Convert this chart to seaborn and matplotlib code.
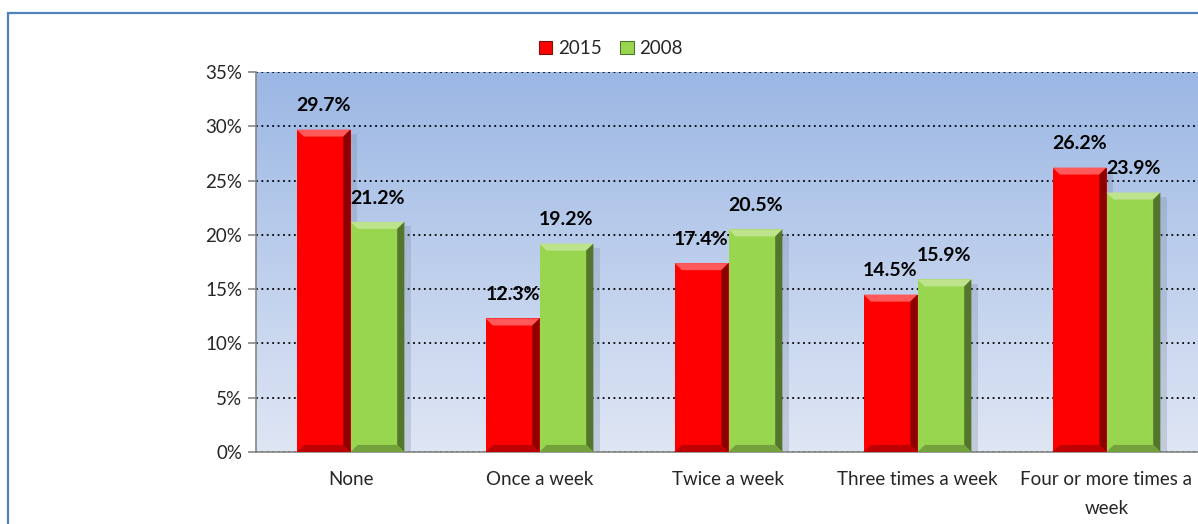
import numpy as np
import pandas as pd
import seaborn as sns
import matplotlib.pyplot as plt
from matplotlib.patches import Rectangle, Polygon, Patch
from matplotlib.colors import LinearSegmentedColormap, to_rgb

# data
categories = ['None', 'Once a week', 'Twice a week', 'Three times a week',
              'Four or more times a\nweek']
years = ['2015', '2008']
share_2015 = [29.7, 12.3, 17.4, 14.5, 26.2]
share_2008 = [21.2, 19.2, 20.5, 15.9, 23.9]
colors = {'2015': '#FF0000', '2008': '#99D650'}

df = pd.DataFrame({
    'Frequency': categories * 2,
    'Year': ['2015'] * len(categories) + ['2008'] * len(categories),
    'Share': share_2015 + share_2008,
})

sns.set_style('white')
plt.rcParams['font.family'] = ['Lato', 'DejaVu Sans']

W, H = 1198, 524
fig = plt.figure(figsize=(W / 100, H / 100), dpi=100)
ax = fig.add_axes([256 / W, 72 / H, 945 / W, 380 / H])

sns.barplot(data=df, x='Frequency', y='Share', hue='Year', palette=colors,
            hue_order=years, width=0.57, saturation=1, legend=False,
            edgecolor='none', zorder=3, ax=ax)

ax.set_xlim(-0.5, len(categories) - 0.5)
ax.set_ylim(0, 35)

# gradient background of the plot area
bg = LinearSegmentedColormap.from_list('bg', ['#DFE6F4', '#9BB7E4'])
ax.imshow(np.linspace(0, 1, 256).reshape(-1, 1), cmap=bg, origin='lower',
          extent=[-0.5, len(categories) - 0.5, 0, 35], aspect='auto', zorder=0)

# bevel look on the bars
bars = list(ax.patches)
dx, dy = 0.038, 0.65
for p in bars:
    x, y, w, h = p.get_x(), p.get_y(), p.get_width(), p.get_height()
    base = np.array(to_rgb(p.get_facecolor()))
    light = base + (1 - base) * 0.35
    dark = base * 0.55
    mid_dark = base * 0.75
    ax.add_patch(Rectangle((x + w, y), 0.035, h - 0.4, color='#6f7f99',
                           alpha=0.25, lw=0, zorder=2.5))
    ax.add_patch(Polygon([(x, y + h), (x + w, y + h), (x + w - dx, y + h - dy),
                          (x + dx, y + h - dy)], color=light, lw=0, zorder=4))
    ax.add_patch(Polygon([(x + w, y), (x + w, y + h), (x + w - dx, y + h - dy),
                          (x + w - dx, y + dy)], color=dark, lw=0, zorder=4))
    ax.add_patch(Polygon([(x, y), (x + w, y), (x + w - dx, y + dy),
                          (x + dx, y + dy)], color=mid_dark, lw=0, zorder=4))
    ax.annotate(f'{h:.1f}%', (x + w / 2, h), xytext=(0, 17),
                textcoords='offset points', ha='center', va='center',
                fontsize=14, fontweight='bold', color='black', zorder=6)

# axes styling
ax.set_axisbelow(True)
ax.yaxis.grid(True, color='black', linestyle=(0, (1, 2)), linewidth=1.3)
ax.set_yticks(range(0, 36, 5))
ax.set_yticklabels([f'{v}%' for v in range(0, 36, 5)], fontsize=13.5)
ax.set_xticks(range(len(categories)))
ax.set_xticklabels(categories, fontsize=13.5, linespacing=1.8)
ax.set_xticks(np.arange(-0.5, len(categories), 1), minor=True)
ax.tick_params(axis='x', which='major', length=0, pad=14)
ax.tick_params(axis='x', which='minor', length=6, color='#868686', width=1.2)
ax.tick_params(axis='y', length=6, color='#868686', width=1.2, pad=4, left=True)
ax.set_xlabel('')
ax.set_ylabel('')
for s in ['top', 'right']:
    ax.spines[s].set_visible(False)
for s in ['left', 'bottom']:
    ax.spines[s].set_color('#868686')
    ax.spines[s].set_linewidth(1.2)

handles = [Patch(facecolor=colors[y], edgecolor='#7a1010' if y == '2015' else '#4d7a2a',
                 linewidth=0.8) for y in years]
fig.legend(handles, years, loc='center', bbox_to_anchor=(0.51, 0.908), ncol=2,
           frameon=False, fontsize=13.5, handlelength=0.7, handleheight=0.7,
           handletextpad=0.3, columnspacing=1.0)

# chart frame
fig.add_artist(Rectangle((7.5 / W, -0.05), 1.1, (H - 12.5) / H + 0.05,
                         transform=fig.transFigure, fill=False,
                         edgecolor='#4F81BD', linewidth=1.6))

fig.savefig('out.png', dpi=100)
